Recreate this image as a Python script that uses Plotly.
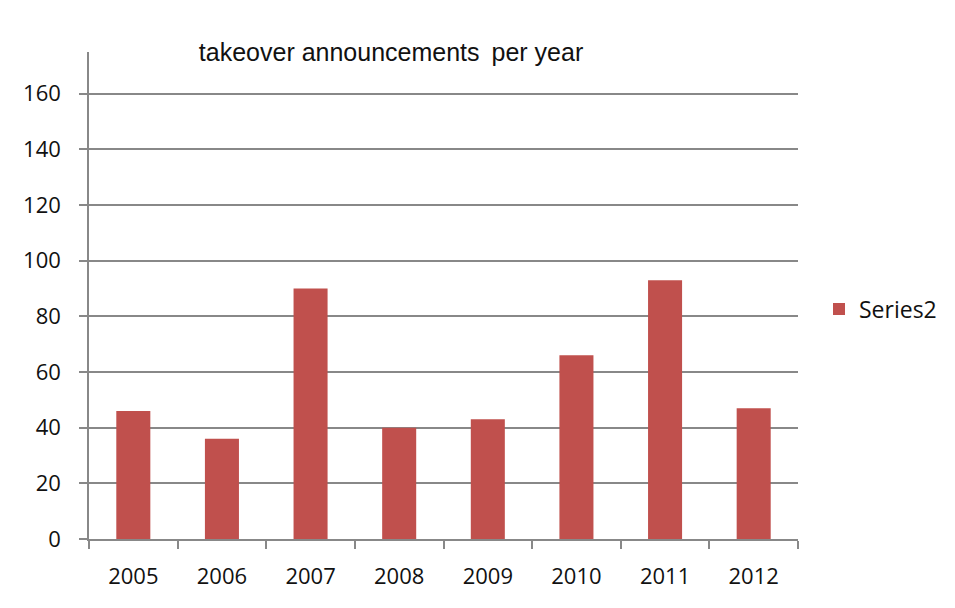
import plotly.graph_objects as go

years = ["2005", "2006", "2007", "2008", "2009", "2010", "2011", "2012"]
series2 = [46, 36, 90, 40, 43, 66, 93, 47]
y_ticks = [0, 20, 40, 60, 80, 100, 120, 140, 160]

fig = go.Figure()
fig.add_trace(go.Bar(
    x=years, y=series2, name="Series2",
    marker=dict(color="#C0504D", line=dict(width=0)),
))

tick_font = dict(family="Open Sans, DejaVu Sans", size=22, color="#111")
W, H = 947, 600  # page body has an 8px margin
fig.update_layout(
    width=W, height=H,
    margin=dict(l=81, r=157, t=44, b=69, autoexpand=False),
    paper_bgcolor="white", plot_bgcolor="white",
    bargap=0.616,
    showlegend=True,
    title=dict(text="takeover announcements\u2009 per year",
               x=0.426, xref="paper", xanchor="center",
               y=1 - 44 / H, yref="container", yanchor="middle",
               font=dict(family="Liberation Sans, Arial", size=25, color="#111")),
    legend=dict(x=(819 - 89) / 709, xanchor="left", y=(539 - 309) / 487, yanchor="middle",
                font=dict(family="Open Sans, DejaVu Sans", size=23, color="#111"),
                itemwidth=30, bgcolor="rgba(0,0,0,0)"),
    xaxis=dict(
        showline=True, linecolor="#888", linewidth=1.5,
        ticks="outside", tickson="boundaries", ticklen=8, tickcolor="#888", tickwidth=1.5,
        tickfont=tick_font, ticklabelstandoff=17,
        showgrid=False,
    ),
    yaxis=dict(
        range=[0, 175], tickvals=y_ticks, ticktext=[str(v) for v in y_ticks],
        showline=True, linecolor="#888", linewidth=1.5,
        ticks="outside", ticklen=8, tickcolor="#888", tickwidth=1.5,
        showgrid=True, gridcolor="#888", gridwidth=1.5,
        zeroline=False,
        tickfont=tick_font, ticklabelstandoff=14,
    ),
)

fig.write_html("out.html")
